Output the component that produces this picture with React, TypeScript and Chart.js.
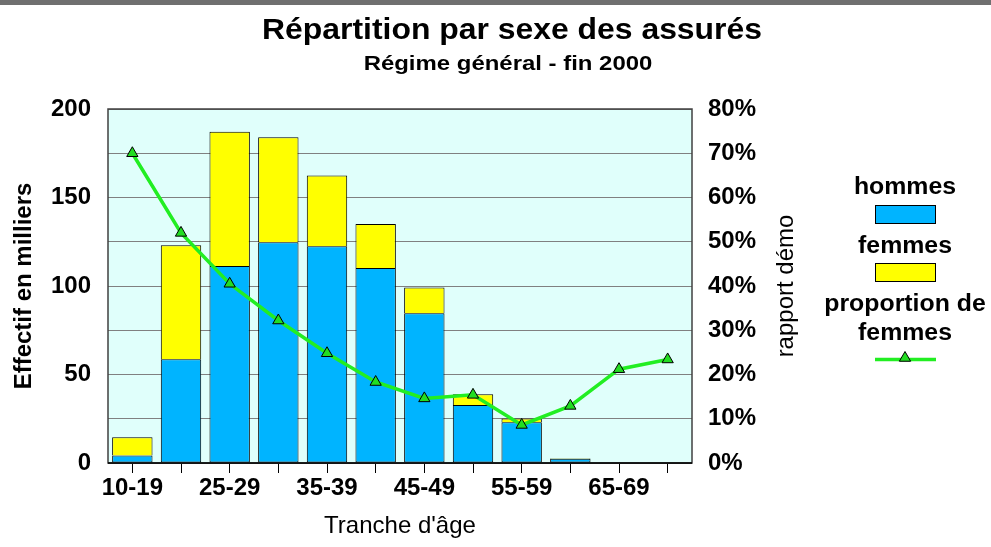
import React, { useEffect, useRef } from 'react';
import { Chart, registerables } from 'chart.js';

Chart.register(...registerables);

const FONT = "'Liberation Sans', Arial, Helvetica, sans-serif";

// ---- data ----
const categories = ['10-19', '20-24', '25-29', '30-34', '35-39', '40-44', '45-49', '50-54', '55-59', '60-64', '65-69', '70-74'];
const hommes = [4.3, 58.6, 111.3, 124.7, 122.4, 110.2, 84.6, 32.8, 23.0, 2.4, 0.4, 0.2];
const femmes = [10.2, 64.4, 75.9, 59.3, 40.1, 24.8, 14.6, 6.0, 2.2, 0.35, 0.1, 0.06];
const proportionFemmes = [0.70, 0.52, 0.405, 0.322, 0.248, 0.183, 0.146, 0.154, 0.086, 0.129, 0.212, 0.234];
const leftTickValues = [0, 50, 100, 150, 200];
const rightTickValues = [0, 0.1, 0.2, 0.3, 0.4, 0.5, 0.6, 0.7, 0.8];

const TITLE = 'Répartition par sexe des assurés';
const SUBTITLE = 'Régime général - fin 2000';
const LEFT_TITLE = 'Effectif en milliers';
const RIGHT_TITLE = 'rapport démo';
const X_TITLE = "Tranche d'âge";
const LEGEND_HOMMES = 'hommes';
const LEGEND_FEMMES = 'femmes';
const LEGEND_PROP = ['proportion de', 'femmes'];

const BLUE = '#00B4FF';
const YELLOW = '#FFFF00';
const GREEN_LINE = '#22EE22';
const GREEN_POINT = '#22DD22';

function stretchedText(ctx: CanvasRenderingContext2D, text: string, x: number, y: number, font: string, sx: number, baseline: CanvasTextBaseline = 'alphabetic') {
  ctx.save();
  ctx.font = font;
  ctx.fillStyle = '#000';
  ctx.textAlign = 'center';
  ctx.textBaseline = baseline;
  ctx.translate(x, y);
  ctx.scale(sx, 1);
  ctx.fillText(text, 0, 0);
  ctx.restore();
}

function triangle(ctx: CanvasRenderingContext2D, x: number, y: number, r: number) {
  ctx.beginPath();
  let rad = 0;
  ctx.moveTo(x + Math.sin(rad) * r, y - Math.cos(rad) * r);
  rad += (2 * Math.PI) / 3;
  ctx.lineTo(x + Math.sin(rad) * r, y - Math.cos(rad) * r);
  rad += (2 * Math.PI) / 3;
  ctx.lineTo(x + Math.sin(rad) * r, y - Math.cos(rad) * r);
  ctx.closePath();
  ctx.fillStyle = GREEN_POINT;
  ctx.fill();
  ctx.strokeStyle = '#000';
  ctx.lineWidth = 1;
  ctx.stroke();
}

const decorPlugin = {
  id: 'decor',
  beforeDraw(chart: any) {
    const { ctx, chartArea: a } = chart;
    ctx.save();
    ctx.fillStyle = '#FFFFFF';
    ctx.fillRect(0, 0, chart.width, chart.height);
    ctx.fillStyle = '#E0FFFB';
    ctx.fillRect(a.left, a.top, a.right - a.left, a.bottom - a.top);
    ctx.restore();
  },
  afterDraw(chart: any) {
    const { ctx, chartArea: a } = chart;
    ctx.save();
    // top grey band
    ctx.fillStyle = '#707070';
    ctx.fillRect(0, 0, chart.width, 5);

    // frame
    ctx.strokeStyle = '#404040';
    ctx.lineWidth = 1.5;
    ctx.strokeRect(a.left, a.top, a.right - a.left, a.bottom - a.top);
    ctx.strokeStyle = '#000';
    ctx.lineWidth = 1.5;
    ctx.beginPath();
    ctx.moveTo(a.left, a.bottom);
    ctx.lineTo(a.right, a.bottom);
    ctx.stroke();

    // titles
    stretchedText(ctx, TITLE, 512, 39, `bold 29px ${FONT}`, 1.1);
    stretchedText(ctx, SUBTITLE, 508, 70, `bold 21px ${FONT}`, 1.14);

    // right axis title (reads bottom-to-top)
    ctx.save();
    ctx.translate(786, (a.top + a.bottom) / 2);
    ctx.rotate(-Math.PI / 2);
    ctx.font = `24px ${FONT}`;
    ctx.fillStyle = '#000';
    ctx.textAlign = 'center';
    ctx.textBaseline = 'middle';
    ctx.fillText(RIGHT_TITLE, 0, 0);
    ctx.restore();

    // legend
    const lx = 905;
    const lf = `bold 23px ${FONT}`;
    stretchedText(ctx, LEGEND_HOMMES, lx, 194, lf, 1.08);
    ctx.fillStyle = BLUE;
    ctx.fillRect(875, 205.5, 60, 18);
    ctx.strokeStyle = '#000';
    ctx.lineWidth = 1;
    ctx.strokeRect(875.5, 205.5, 60, 18);
    stretchedText(ctx, LEGEND_FEMMES, lx, 253, lf, 1.08);
    ctx.fillStyle = YELLOW;
    ctx.fillRect(875, 263.5, 60, 18);
    ctx.strokeRect(875.5, 263.5, 60, 18);
    stretchedText(ctx, LEGEND_PROP[0], lx, 311, lf, 1.08);
    stretchedText(ctx, LEGEND_PROP[1], lx, 340, lf, 1.08);
    ctx.strokeStyle = GREEN_LINE;
    ctx.lineWidth = 3.5;
    ctx.beginPath();
    ctx.moveTo(875, 359.5);
    ctx.lineTo(936, 359.5);
    ctx.stroke();
    triangle(ctx, lx, 358, 6.5);
    ctx.restore();
  },
};

export default function App() {
  const ref = useRef<HTMLCanvasElement | null>(null);

  useEffect(() => {
    document.body.style.margin = '0';
    const canvas = ref.current;
    if (!canvas) return;
    const tickFont = { family: FONT, size: 24, weight: 'bold' as const };

    const chart = new Chart(canvas, {
      type: 'bar',
      data: {
        labels: categories,
        datasets: [
          {
            type: 'line' as const,
            label: 'proportion de femmes',
            data: proportionFemmes,
            yAxisID: 'y1',
            borderColor: GREEN_LINE,
            borderWidth: 3.5,
            tension: 0,
            pointStyle: 'triangle',
            pointRadius: 6.5,
            pointBackgroundColor: GREEN_POINT,
            pointBorderColor: '#000',
            pointBorderWidth: 1,
            order: 0,
          } as any,
          {
            label: 'hommes',
            data: hommes,
            backgroundColor: BLUE,
            borderColor: '#000',
            borderWidth: 1,
            borderSkipped: false,
            barPercentage: 0.83,
            categoryPercentage: 1,
            yAxisID: 'y',
            stack: 's',
            order: 1,
          },
          {
            label: 'femmes',
            data: femmes,
            backgroundColor: YELLOW,
            borderColor: '#000',
            borderWidth: 1,
            borderSkipped: 'bottom',
            barPercentage: 0.83,
            categoryPercentage: 1,
            yAxisID: 'y',
            stack: 's',
            order: 1,
          },
        ],
      },
      options: {
        responsive: false,
        animation: false,
        events: [],
        layout: { padding: { top: 109, left: 0, right: 0, bottom: 0 } },
        plugins: {
          legend: { display: false },
          title: { display: false },
          tooltip: { enabled: false },
        },
        scales: {
          x: {
            stacked: true,
            offset: true,
            border: { display: false },
            grid: {
              display: true,
              drawOnChartArea: false,
              drawTicks: true,
              tickLength: 10,
              tickColor: '#000',
              tickWidth: 1,
              offset: false,
            },
            ticks: {
              autoSkip: false,
              maxRotation: 0,
              minRotation: 0,
              color: '#000',
              padding: 1,
              font: tickFont,
              callback: (_v: any, i: number) => (i % 2 === 0 ? categories[i] : ''),
            },
            title: {
              display: true,
              text: X_TITLE,
              color: '#000',
              font: { family: FONT, size: 24, weight: 'normal' as const },
              padding: { top: 0, bottom: 6 },
            },
            afterFit: (s: any) => {
              s.height = 84;
            },
          },
          y: {
            position: 'left',
            stacked: true,
            min: 0,
            max: 200,
            border: { display: false },
            grid: { color: '#808080', lineWidth: 1, drawTicks: false },
            afterBuildTicks: (s: any) => {
              s.ticks = [0, 25, 50, 75, 100, 125, 150, 175, 200].map((v) => ({ value: v }));
            },
            ticks: {
              color: '#000',
              padding: 17,
              font: tickFont,
              callback: (v: any) => (leftTickValues.includes(Number(v)) ? String(v) : ''),
            },
            title: {
              display: true,
              text: LEFT_TITLE,
              color: '#000',
              font: { family: FONT, size: 24, weight: 'bold' as const },
              padding: { top: 10, bottom: 0 },
            },
            afterFit: (s: any) => {
              s.width = 108;
            },
          },
          y1: {
            position: 'right',
            stacked: false,
            min: 0,
            max: 0.8,
            border: { display: false },
            grid: { display: false, drawOnChartArea: false, drawTicks: false },
            afterBuildTicks: (s: any) => {
              s.ticks = rightTickValues.map((v) => ({ value: v }));
            },
            ticks: {
              color: '#000',
              padding: 16,
              font: tickFont,
              callback: (v: any) => `${Math.round(Number(v) * 100)}%`,
            },
            afterFit: (s: any) => {
              s.width = 299;
            },
          },
        },
      } as any,
      plugins: [decorPlugin],
    });

    return () => {
      chart.destroy();
    };
  }, []);

  return (
    <div style={{ width: 991, height: 547 }}>
      <canvas ref={ref} width={991} height={547} style={{ display: 'block' }} />
    </div>
  );
}
